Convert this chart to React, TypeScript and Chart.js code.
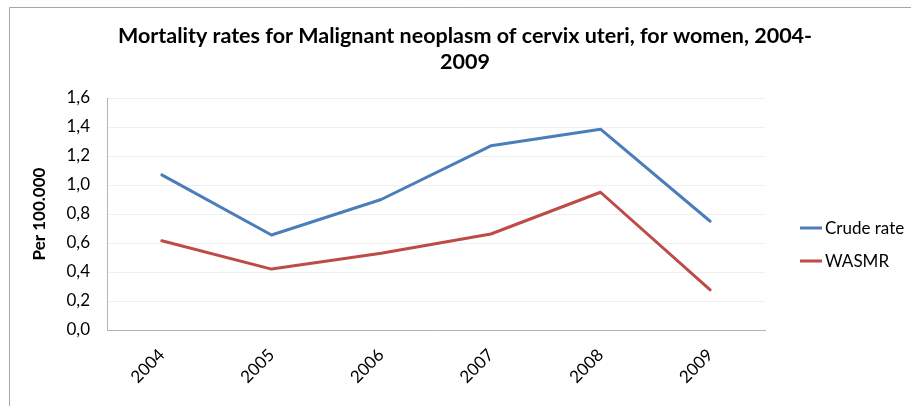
import React, { useEffect, useRef } from "react";
import { Chart, registerables } from "chart.js";

Chart.register(...registerables);

const years = ["2004", "2005", "2006", "2007", "2008", "2009"];
const crudeRate = [1.07, 0.655, 0.9, 1.27, 1.385, 0.75];
const wasmr = [0.615, 0.42, 0.53, 0.662, 0.95, 0.277];
const titleLines = ["Mortality rates for Malignant neoplasm of cervix uteri, for women, 2004-", "2009"];
const yTitle = "Per 100.000";
const seriesNames = ["Crude rate", "WASMR"];

const FONT = "Lato, 'Open Sans', sans-serif";

const decorPlugin = {
  id: "decor",
  beforeDraw(chart: any) {
    const ctx = chart.ctx;
    ctx.save();
    ctx.fillStyle = "#ffffff";
    ctx.fillRect(0, 0, chart.width, chart.height);
    ctx.strokeStyle = "#A6A6A6";
    ctx.lineWidth = 1;
    ctx.beginPath();
    ctx.moveTo(9.5, chart.height);
    ctx.lineTo(9.5, 7.5);
    ctx.lineTo(chart.width, 7.5);
    ctx.stroke();
    ctx.restore();
  },
  afterDraw(chart: any) {
    const ctx = chart.ctx;
    ctx.save();
    ctx.fillStyle = "#000000";
    ctx.font = "bold 21.5px " + FONT;
    ctx.textAlign = "center";
    ctx.textBaseline = "middle";
    ctx.fillText(titleLines[0], 465, 36);
    ctx.fillText(titleLines[1], 465, 62);
    // legend
    const ys = [228, 261];
    chart.data.datasets.forEach((ds: any, i: number) => {
      ctx.strokeStyle = ds.borderColor;
      ctx.lineWidth = 3;
      ctx.beginPath();
      ctx.moveTo(800, ys[i]);
      ctx.lineTo(822, ys[i]);
      ctx.stroke();
      ctx.fillStyle = "#000000";
      ctx.font = "17px " + FONT;
      ctx.textAlign = "left";
      ctx.textBaseline = "middle";
      ctx.fillText(ds.label, 825, ys[i] + 1);
    });
    ctx.restore();
  },
};

export default function App() {
  const ref = useRef<HTMLCanvasElement | null>(null);
  useEffect(() => {
    if (!ref.current) return;
    const chart = new Chart(ref.current, {
      type: "line",
      data: {
        labels: years,
        datasets: [
          {
            label: seriesNames[0],
            data: crudeRate,
            borderColor: "#4A7EBB",
            backgroundColor: "#4A7EBB",
            borderWidth: 3,
            pointRadius: 0,
            tension: 0,
            borderJoinStyle: "round",
            borderCapStyle: "round",
          },
          {
            label: seriesNames[1],
            data: wasmr,
            borderColor: "#BE4B48",
            backgroundColor: "#BE4B48",
            borderWidth: 3,
            pointRadius: 0,
            tension: 0,
            borderJoinStyle: "round",
            borderCapStyle: "round",
          },
        ],
      },
      options: {
        responsive: false,
        animation: false,
        devicePixelRatio: 1,
        layout: { padding: { left: 25, right: 146, top: 98, bottom: 0 } },
        plugins: {
          legend: { display: false },
          title: { display: false },
          tooltip: { enabled: false },
        },
        scales: {
          x: {
            offset: true,
            grid: { display: false, drawTicks: false },
            border: { display: true, color: "#B3B3B3", width: 1 },
            ticks: {
              minRotation: 45,
              maxRotation: 45,
              padding: 15,
              color: "#000000",
              font: { family: FONT, size: 17 },
            },
            afterFit(scale: any) {
              scale.height = 76;
            },
          },
          y: {
            min: 0,
            max: 1.6,
            grid: { color: "#EFEFEF", drawTicks: false },
            border: { display: true, color: "#B3B3B3", width: 1 },
            ticks: {
              stepSize: 0.2,
              padding: 17,
              color: "#000000",
              font: { family: FONT, size: 17 },
              callback: (v: any) => Number(v).toFixed(1).replace(".", ","),
            },
            title: {
              display: true,
              text: yTitle,
              color: "#000000",
              font: { family: FONT, size: 17, weight: "bold" },
            },
            afterFit(scale: any) {
              scale.width = 82;
            },
          },
        },
      },
      plugins: [decorPlugin],
    } as any);
    return () => chart.destroy();
  }, []);
  return (
    <div style={{ position: "absolute", left: 0, top: 0, width: 911, height: 406, background: "#fff" }}>
      <canvas ref={ref} width={911} height={406} style={{ display: "block" }} />
    </div>
  );
}
